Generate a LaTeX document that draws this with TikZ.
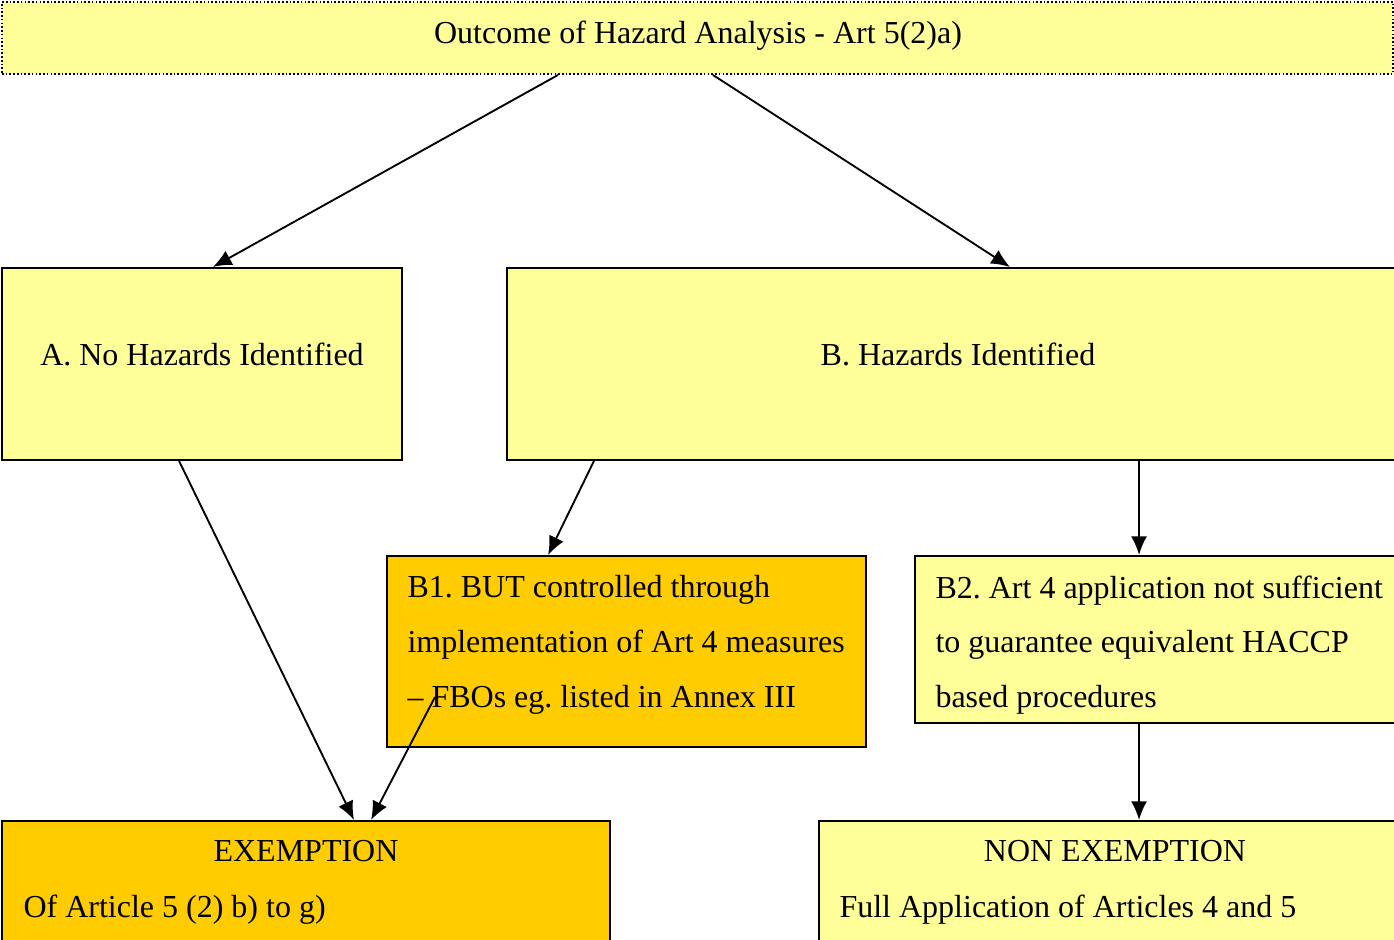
\documentclass[tikz,border=0pt]{standalone}
\usepackage{fontspec}
\setmainfont{Liberation Serif}
\usetikzlibrary{arrows.meta,fit}
\definecolor{paleyellow}{HTML}{FFFF99}
\definecolor{gold}{HTML}{FFCC00}
\frenchspacing
\begin{document}
\begin{tikzpicture}[x=0.375pt, y=-0.375pt,
    font=\fontsize{12}{20.6}\selectfont,
    box/.style={draw, line width=0.75pt, fill=paleyellow, inner sep=0pt},
    hotbox/.style={box, fill=gold},
    txt/.style={inner sep=0pt},
    lines/.style={inner sep=0pt, anchor=north west, align=left}]
    \tikzset{>={Latex[length=7pt,width=6pt]}}
    \useasboundingbox (0,0) rectangle (1394,940);
    \clip (0,0) rectangle (1394,940);
    % boxes
    \node [box, dash pattern=on 0.6pt off 0.8pt, fit={(2,2) (1393,74)}] (top) {};
    \node [box, fit={(2,268) (402,460)}] (a) {};
    \node [box, fit={(507,268) (1410,460)}] (b) {};
    \node [hotbox, fit={(387,556) (866,747)}] (b1) {};
    \node [box, fit={(915,556) (1410,723)}] (b2) {};
    \node [hotbox, fit={(2,821) (610,960)}] (ex) {};
    \node [box, fit={(819,821) (1410,960)}] (nonex) {};
    % texts
    \node [txt] (toptext) at (698,36) {Outcome of Hazard Analysis - Art 5(2)a)};
    \node [txt] (atext) at (202,354) {A. No Hazards Identified};
    \node [txt] (btext) at (958,354) {B. Hazards Identified};
    \node [lines] (b1text) at (407,575) {B1. BUT controlled through\\implementation of Art 4 measures\\– FBOs eg. listed in Annex III};
    \node [lines] (b2text) at (935,575) {B2. Art 4 application not sufficient\\to guarantee equivalent HACCP\\based procedures};
    \node [txt] (extitle) at (306,851) {EXEMPTION};
    \node [txt, anchor=west] (exline) at (23,910) {Of Article 5 (2) b) to g)};
    \node [txt] (nontitle) at (1115,851) {NON EXEMPTION};
    \node [txt, anchor=west] (nonline) at (839,910) {Full Application of Articles 4 and 5};
    % arrows
    \coordinate (b1tail) at (435,697);
    \draw [->, line width=0.7pt] ([xshift=-52.3pt]top.south) -- ([xshift=4.1pt]a.north);
    \draw [->, line width=0.7pt] ([xshift=5.8pt]top.south) -- ([xshift=19.3pt]b.north);
    \draw [->, line width=0.7pt] ([xshift=-8.6pt]a.south) -- ([xshift=18pt]ex.north);
    \draw [->, line width=0.7pt] ([xshift=-136.7pt]b.south) -- ([xshift=-29.4pt]b1.north);
    \draw [->, line width=0.7pt] (b1tail) -- ([xshift=24.4pt]ex.north);
    \draw [->, line width=0.7pt] ([xshift=67.7pt]b.south) -- ([xshift=-8.8pt]b2.north);
    \draw [->, line width=0.7pt] ([xshift=-8.8pt]b2.south) -- ([xshift=9.2pt]nonex.north);
\end{tikzpicture}
\end{document}
